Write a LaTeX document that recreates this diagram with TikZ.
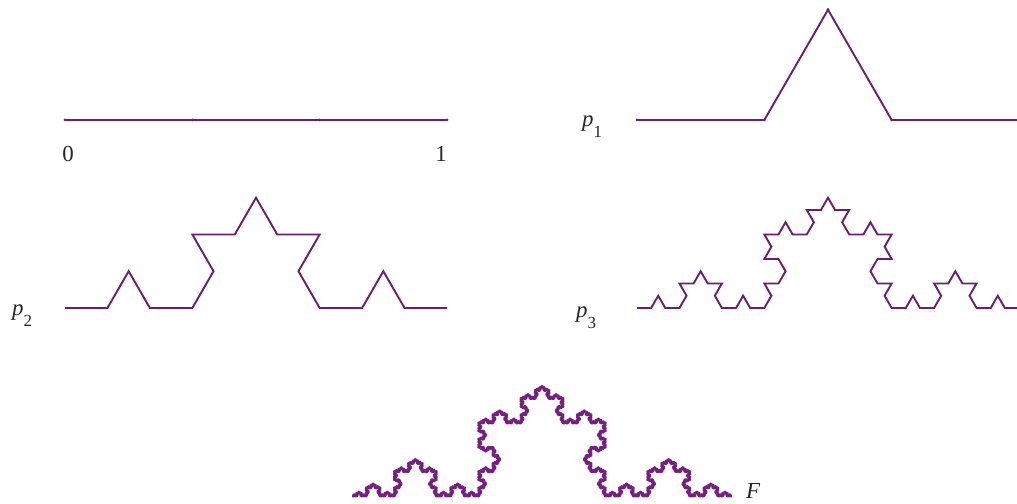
\documentclass[tikz,border=0pt]{standalone}
\usepackage{fontspec}
\setmainfont{Liberation Serif}
\usetikzlibrary{lindenmayersystems}
\definecolor{kochline}{HTML}{6A1F6E}
\definecolor{kochF}{HTML}{74207F}
\pgfdeclarelindenmayersystem{Koch}{\rule{F -> F+F--F+F}}
\tikzset{
  curve/.style={draw=kochline, line width=1.9bp, line join=miter},
  fcurve/.style={draw=kochF, line width=2.8bp, line join=round},
  vdot/.style={fill=kochline, inner sep=0pt, minimum size=3bp, circle},
  lbl/.style={font=\fontsize{23}{26}\selectfont, inner sep=0pt, text=black!85},
}
\newcommand{\plabel}[1]{\textit{p}\raisebox{-11bp}{\fontsize{17}{18}\selectfont #1}}
\begin{document}
\begin{tikzpicture}[x=1bp,y=1bp]
\useasboundingbox (0,0) rectangle (1017,504);
\clip (0,0) rectangle (1017,504);
% unit interval
\coordinate (a0) at (65,384);
\coordinate (a1) at (447,384);
\draw[curve] (a0) -- (a1);
\foreach \i/\x in {0/65,1/192.33,2/319.67,3/447}{
  \node[vdot] (t\i) at (\x,384) {};
}
\node[lbl, anchor=base] (zero) at (68,342) {0};
\node[lbl, anchor=base] (one) at (441,342) {1};
% p1
\begin{scope}[shift={(637,384)}]
\draw[curve, l-system={Koch, axiom=F, order=1, step=127.333bp, angle=60}] lindenmayer system;
\end{scope}
\foreach \i/\x/\y in {0/637/384,1/764.33/384,2/828/494.27,3/891.67/384}{
  \node[vdot] (v\i) at (\x,\y) {};
}
\node[lbl, anchor=base west] (p1) at (582,377) {\plabel{1}};
% p2
\begin{scope}[shift={(65,196)}]
\draw[curve, l-system={Koch, axiom=F, order=2, step=42.444bp, angle=60}] lindenmayer system;
\end{scope}
\node[lbl, anchor=base west] (p2) at (12,188) {\plabel{2}};
% p3
\begin{scope}[shift={(637,196)}]
\draw[curve, l-system={Koch, axiom=F, order=3, step=14.148bp, angle=60}] lindenmayer system;
\end{scope}
\node[lbl, anchor=base west] (p3) at (576,186) {\plabel{3}};
% F
\begin{scope}[shift={(352,8)}]
\draw[fcurve, l-system={Koch, axiom=F, order=5, step=1.5638bp, angle=60}] lindenmayer system;
\end{scope}
\node[lbl, anchor=base west] (F) at (746,5) {\textit{F}};
\end{tikzpicture}
\end{document}
